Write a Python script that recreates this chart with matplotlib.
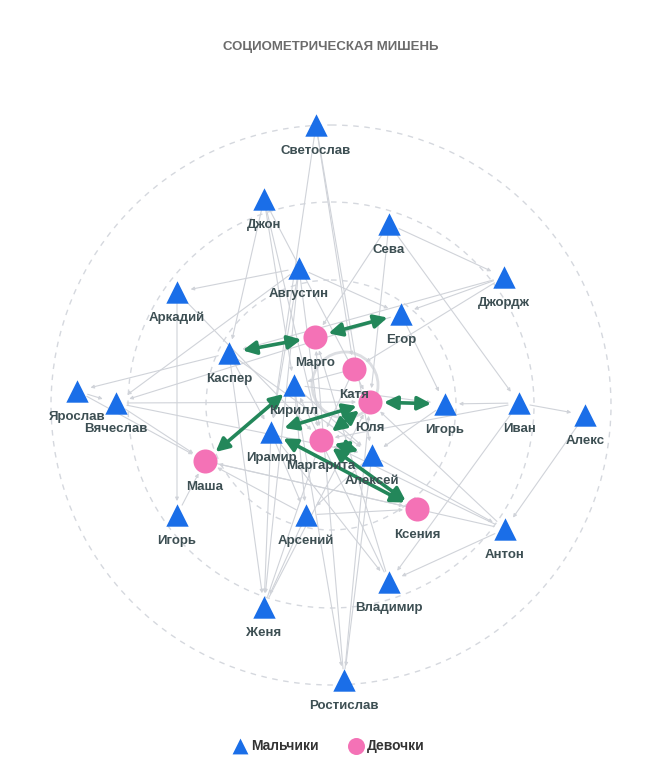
import matplotlib
matplotlib.use("Agg")
import matplotlib.pyplot as plt
from matplotlib.patches import FancyArrowPatch, Circle

plt.rcParams['font.family'] = ['Liberation Sans', 'DejaVu Sans']

boy_ids = ["Светослав","Джон","Сева","Августин","Джордж","Аркадий","Егор","Каспер","Ярослав","Вячеслав",
           "Кирилл","Иван","Игорь_r","Алекс","Ирамир","Алексей","Игорь_l","Арсений","Антон","Владимир","Женя","Ростислав"]
boy_x = [316,264,389,299,504,177,401,229,77,116,294,519,445,585,271,372,177,306,505,389,264,344]
boy_y = [125,199,224,268,277,292,314,353,391,403,385,403,404,415,432,455,515,515,529,582,607,680]
girl_ids = ["Марго","Катя","Юля","Маргарита","Маша","Ксения"]
girl_x = [315,354,370,321,205,417]
girl_y = [337,369,402,440,461,509]

mutual = [("Марго","Егор"),("Марго","Каспер"),("Маша","Кирилл"),("Юля","Ирамир"),("Юля","Игорь_r"),
          ("Ирамир","Ксения"),("Маргарита","Алексей"),("Юля","Маргарита"),("Маргарита","Ксения")]
edges = [("Светослав","Катя"),("Светослав","Ирамир"),("Светослав","Алексей"),
 ("Джон","Кирилл"),("Джон","Юля"),("Джон","Каспер"),("Джон","Маргарита"),
 ("Сева","Марго"),("Сева","Джордж"),("Сева","Юля"),("Сева","Иван"),
 ("Августин","Аркадий"),("Августин","Егор"),("Августин","Ирамир"),("Августин","Маргарита"),("Августин","Женя"),("Августин","Вячеслав"),
 ("Джордж","Егор"),("Джордж","Каспер"),("Джордж","Катя"),
 ("Аркадий","Игорь_l"),("Аркадий","Маргарита"),
 ("Егор","Игорь_r"),("Егор","Вячеслав"),
 ("Каспер","Ярослав"),("Каспер","Ирамир"),("Каспер","Женя"),("Каспер","Алексей"),
 ("Ярослав","Вячеслав"),("Ярослав","Маша"),
 ("Вячеслав","Юля"),("Вячеслав","Алексей"),("Вячеслав","Маша"),
 ("Кирилл","Игорь_r"),("Кирилл","Алексей"),("Кирилл","Арсений"),("Кирилл","Ростислав"),
 ("Иван","Алекс"),("Иван","Игорь_r"),("Иван","Маргарита"),("Иван","Владимир"),
 ("Алекс","Антон"),("Игорь_r","Алексей"),
 ("Ирамир","Арсений"),("Ирамир","Женя"),("Ирамир","Владимир"),
 ("Алексей","Антон"),("Алексей","Арсений"),("Алексей","Ростислав"),
 ("Игорь_l","Маша"),("Арсений","Ксения"),("Арсений","Маша"),("Арсений","Женя"),
 ("Антон","Маша"),("Антон","Владимир"),("Антон","Маргарита"),("Антон","Юля"),
 ("Владимир","Марго"),("Владимир","Кирилл"),
 ("Женя","Маргарита"),("Женя","Юля"),("Ростислав","Марго"),("Ростислав","Юля"),
 ("Маша","Ксения"),("Катя","Маргарита"),("Катя","Кирилл")]
ring_radii = [280, 203, 125]
center = (331, 405)

pos = {}
for n, x, y in zip(boy_ids, boy_x, boy_y): pos[n] = (x, y)
for n, x, y in zip(girl_ids, girl_x, girl_y): pos[n] = (x, y)
label = lambda n: n.split("_")[0]

fig = plt.figure(figsize=(6.63, 7.69), dpi=100)
ax = fig.add_axes([0, 0, 1, 1])
ax.set_xlim(0, 663); ax.set_ylim(769, 0); ax.axis("off")

for r in ring_radii:
    ax.add_patch(Circle(center, r, fill=False, ls=(0, (4, 4)), ec="#d5d8de", lw=1))
ax.add_patch(Circle((345, 385), 33, fill=False, ec="#dcdee2", lw=2))

for a, b in edges:
    ax.add_patch(FancyArrowPatch(pos[a], pos[b], arrowstyle="-|>", mutation_scale=5,
                                 color="#d0d3d9", lw=0.8, shrinkA=8, shrinkB=10, zorder=1))
for a, b in mutual:
    ax.add_patch(FancyArrowPatch(pos[a], pos[b], arrowstyle="<|-|>", mutation_scale=20,
                                 color="#23875a", lw=2.6, shrinkA=10, shrinkB=10, zorder=2))

ax.scatter(boy_x, boy_y, marker="^", s=260, c="#1a6ee8", zorder=3, linewidths=0)
ax.scatter(girl_x, girl_y, marker="o", s=300, c="#f472b6", zorder=3, linewidths=0)
for n in boy_ids + girl_ids:
    x, y = pos[n]
    ax.text(x, y + 26, label(n), ha="center", va="center", fontsize=9.5, fontweight="bold",
            color="#3d4f53", zorder=4)

ax.text(331, 47, "СОЦИОМЕТРИЧЕСКАЯ МИШЕНЬ", ha="center", va="center", fontsize=9.5,
        fontweight="bold", color="#6b6b6b")
ax.scatter([240], [746], marker="^", s=130, c="#1a6ee8", linewidths=0)
ax.text(251, 746, "Мальчики", va="center", fontsize=10, fontweight="bold", color="#333333")
ax.scatter([356], [746], marker="o", s=150, c="#f472b6", linewidths=0)
ax.text(367, 746, "Девочки", va="center", fontsize=10, fontweight="bold", color="#333333")

fig.savefig("out.png", dpi=100, facecolor="white")
